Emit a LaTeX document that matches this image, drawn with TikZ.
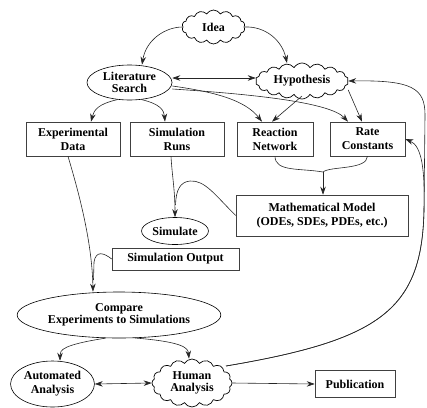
\documentclass[tikz,border=0pt]{standalone}
\usepackage{fontspec}
\setmainfont{Liberation Serif}
\usetikzlibrary{shapes.geometric,shapes.symbols,arrows.meta}
\begin{document}
\begin{tikzpicture}[x=1pt,y=-1pt,
  every node/.style={font=\fontsize{12}{14}\selectfont\bfseries, align=center, inner sep=1pt},
  box/.style={draw=black!75, line width=0.6pt, rectangle},
  oval/.style={draw=black, line width=0.6pt, ellipse},
  cld/.style={draw=black, line width=0.7pt, cloud, cloud puffs=#1, cloud puff arc=120, cloud ignores aspect},
  arr/.style={draw=black!85, line width=0.6pt, -{Stealth[length=8pt,width=5.5pt]}},
  darr/.style={draw=black!85, line width=0.6pt, {Stealth[length=8pt,width=5.5pt]}-{Stealth[length=8pt,width=5.5pt]}}
]
\useasboundingbox (0,0) rectangle (427,407);

% nodes
\node[cld=14, minimum width=63pt, minimum height=34pt] (idea) at (213.5,27) {Idea};
\node[oval, minimum width=85pt, minimum height=35pt] (lit) at (129.5,82.5) {Literature\\[-2pt]Search};
\node[cld=18, minimum width=93pt, minimum height=36pt] (hyp) at (302,81) {Hypothesis};

\node[box, minimum width=94pt, minimum height=34pt] (exp) at (73,139) {Experimental\\Data};
\node[box, minimum width=94pt, minimum height=34pt] (runs) at (177,139) {Simulation\\Runs};
\node[box, minimum width=76pt, minimum height=34pt] (rn) at (275,139) {Reaction\\Network};
\node[box, minimum width=75pt, minimum height=34pt] (rc) at (367.5,139) {Rate\\Constants};

\node[box, minimum width=172pt, minimum height=41pt] (math) at (322,215.5) {Mathematical Model\\(ODEs, SDEs, PDEs, etc.)};
\node[oval, minimum width=64pt, minimum height=27pt] (sim) at (175,231) {Simulate};
\node[box, minimum width=127pt, minimum height=22pt] (out) at (175.5,259) {Simulation Output};

\node[oval, minimum width=198pt, minimum height=46pt] (cmp) at (119,315) {Compare\\[-2pt]Experiments to Simulations};
\node[oval, minimum width=82pt, minimum height=46pt] (auto) at (52.5,384) {Automated\\Analysis};
\node[cld=16, minimum width=80pt, minimum height=48pt] (hum) at (192,383) {Human\\[-2pt]Analysis};
\node[box, minimum width=80pt, minimum height=27pt] (pub) at (355,384) {Publication};

% connectors
\draw[arr] (idea.west) .. controls (165,27) and (146,40) .. (lit.north -| 142,0);
\draw[arr] (idea.east) .. controls (265,26) and (282,40) .. (287,63);
\draw[darr] (lit.east |- 0,78) -- (hyp.west |- 0,78);

\draw[arr] (lit.235) .. controls (98,104) and (94,110) .. (exp.north -| 91,0);
\draw[arr] (lit.305) .. controls (160,104) and (164,110) .. (runs.north -| 165,0);
\draw[arr] (lit.east |- 0,86) .. controls (215,92) and (245,100) .. (rn.north -| 262,0);
\draw[arr] (lit.east |- 0,89) .. controls (250,94) and (330,102) .. (rc.north -| 348,0);
\draw[arr] (hyp.south |- 0,96) -- (rn.north -| 272,0);
\draw[arr] (hyp.east |- 0,90) -- (rc.north -| 362,0);

\coordinate (mrg) at (323,172);
\draw[line width=0.6pt, draw=black!85] (rn.south) .. controls (275,172) and (300,168) .. (mrg);
\draw[line width=0.6pt, draw=black!85] (rc.south) .. controls (367,170) and (330,166) .. (mrg);
\draw[arr] (mrg) -- (math.north -| 323,0);

\draw[arr] (runs.south -| 171,0) .. controls (172,175) and (175,190) .. (sim.north);
\draw[line width=0.6pt, draw=black!85] (math.west) .. controls (215,195) and (205,180) .. (190,181) .. controls (180,182) and (176,190) .. (175.5,205);

\draw[arr] (exp.south -| 68,0) .. controls (78,190) and (92,240) .. (cmp.north -| 93,0);
\draw[line width=0.6pt, draw=black!85] (out.west) .. controls (104,253) and (96,250) .. (94,262) -- (93.5,280);

\draw[arr] (cmp.240) .. controls (62,345) and (60,350) .. (auto.north -| 60,0);
\draw[arr] (cmp.305) .. controls (184,342) and (188,348) .. (hum.north -| 189,0);
\draw[darr] (auto.east) -- (hum.west);
\draw[arr] (hum.east) -- (pub.west);

\draw[arr] (226,366) .. controls (380,340) and (422,310) .. (424,210) .. controls (425,170) and (422,146) .. (rc.east);
\draw[arr] (226,366) .. controls (380,340) and (422,310) .. (424,210) -- (425,115) .. controls (425,88) and (412,80) .. (hyp.east);
\end{tikzpicture}
\end{document}
